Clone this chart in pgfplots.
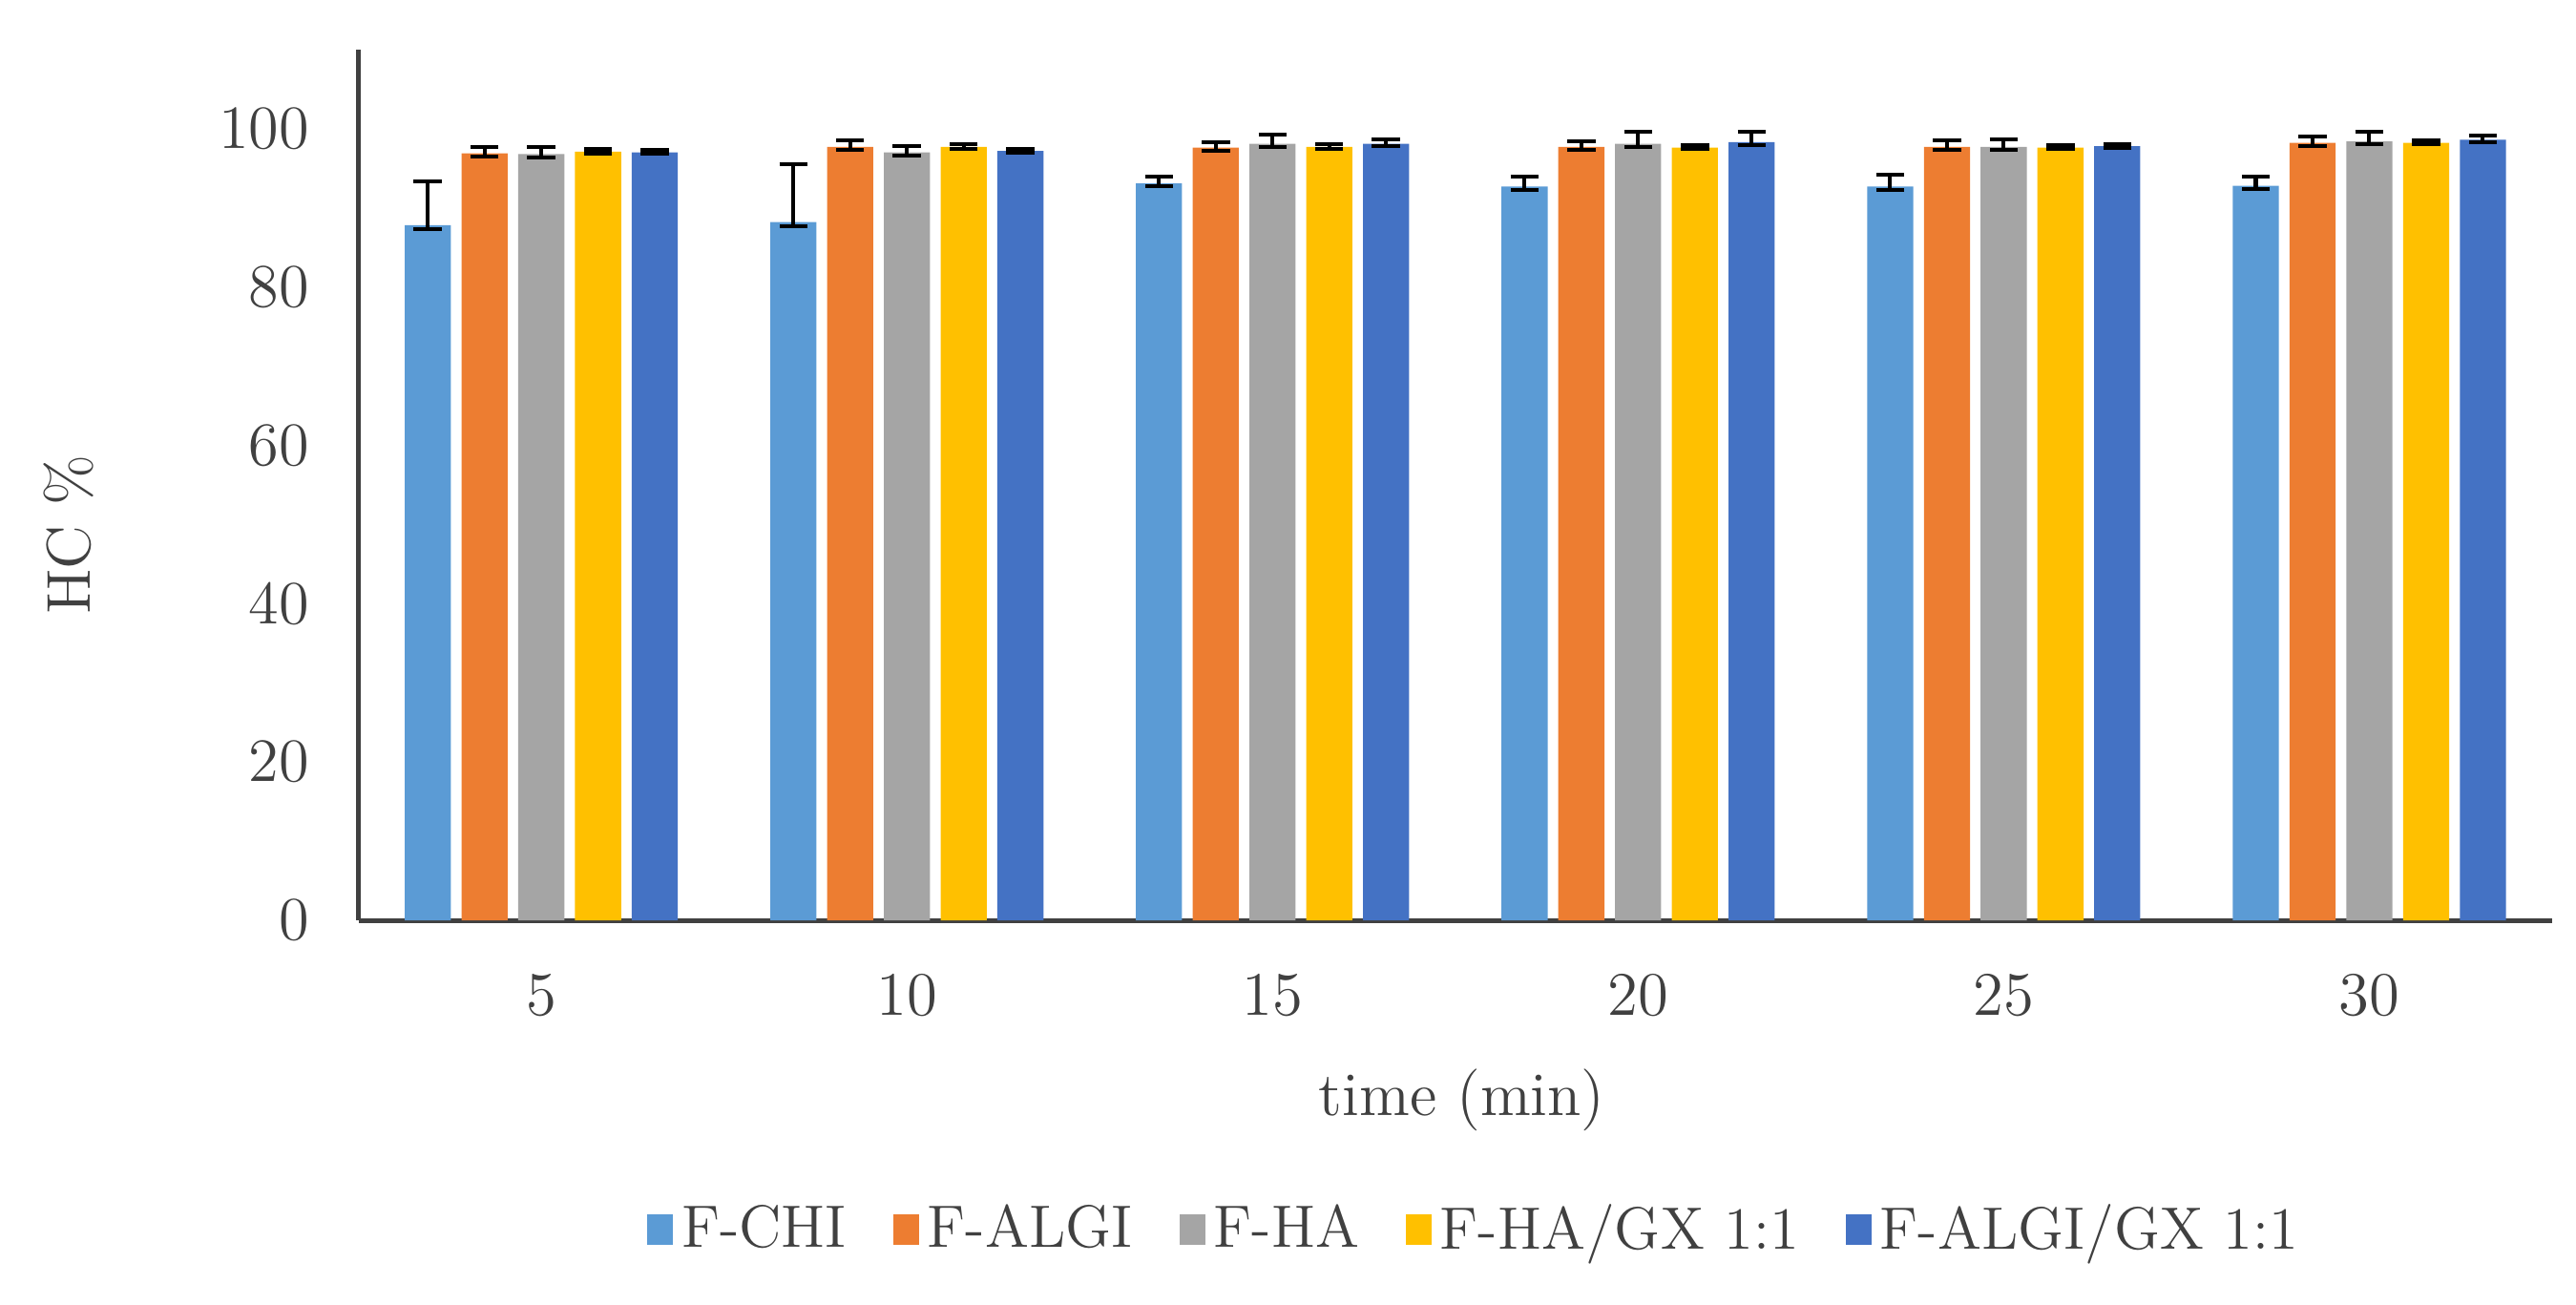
\documentclass[border=0pt]{standalone}
\usepackage{pgfplots}
\pgfplotsset{compat=1.18}
\definecolor{cchi}{HTML}{5B9BD5}
\definecolor{calgi}{HTML}{ED7D31}
\definecolor{cha}{HTML}{A5A5A5}
\definecolor{chagx}{HTML}{FFC000}
\definecolor{calgigx}{HTML}{4472C4}
\definecolor{txt}{HTML}{404040}
\pgfplotstableread{
x y ep em
0 87.8 5.5 0.5
1 88.2 7.3 0.5
2 93.1 0.8 0.4
3 92.7 1.2 0.4
4 92.7 1.5 0.4
5 92.8 1.1 0.4
}\chi
\pgfplotstableread{
x y ep em
0 96.9 0.8 0.4
1 97.7 0.8 0.4
2 97.6 0.7 0.4
3 97.7 0.7 0.4
4 97.7 0.8 0.4
5 98.2 0.8 0.4
}\algi
\pgfplotstableread{
x y ep em
0 96.8 0.9 0.4
1 97.0 0.8 0.4
2 98.1 1.2 0.4
3 98.1 1.5 0.4
4 97.7 0.9 0.4
5 98.4 1.2 0.4
}\ha
\pgfplotstableread{
x y ep em
0 97.1 0.3 0.2
1 97.7 0.3 0.2
2 97.7 0.3 0.2
3 97.6 0.3 0.2
4 97.6 0.3 0.2
5 98.2 0.3 0.2
}\hagx
\pgfplotstableread{
x y ep em
0 97.0 0.3 0.2
1 97.2 0.3 0.2
2 98.1 0.6 0.3
3 98.3 1.3 0.4
4 97.8 0.3 0.2
5 98.6 0.5 0.3
}\algigx
\begin{document}
\begin{tikzpicture}
\path[use as bounding box] (-84pt,-90pt) rectangle (519.6pt,215.6pt);
\begin{axis}[
  at={(0,0)}, anchor=south west,
  scale only axis, width=514pt, height=204pt,
  ymin=0, ymax=110, xmin=-0.5, xmax=5.5,
  axis x line*=bottom, axis y line*=left,
  axis line style={-, draw=black!75, line width=1.1pt},
  xtick={0,...,5}, xticklabels={5,10,15,20,25,30},
  ytick={0,20,...,100},
  major tick length=0pt,
  tick label style={font=\fontsize{14.5}{17}\selectfont, text=txt},
  xticklabel style={yshift=-9pt},
  yticklabel style={xshift=-8pt},
  xlabel={time (min)},
  xlabel style={at={(axis description cs:0.503,0)}, anchor=center, yshift=-42pt, font=\fontsize{14.5}{17}\selectfont, text=txt},
  ylabel={HC \%},
  ylabel style={at={(axis description cs:-0.132,0.443)}, anchor=center, font=\fontsize{14.5}{17}\selectfont, text=txt},
  ybar=2.5pt, bar width=10.8pt,
  legend style={at={(0.51,-0.355)}, anchor=center, draw=none, fill=none,
    legend columns=5, font=\fontsize{14}{16}\selectfont, text=txt,
    /tikz/every even column/.append style={column sep=9pt}},
  legend image code/.code={\fill[#1] (0pt,-3.5pt) rectangle (6pt,3.5pt);},
  every axis plot/.append style={draw=none,
    error bars/y dir=both, error bars/y explicit,
    error bars/error bar style={black, line width=0.9pt},
    error bars/error mark options={rotate=90, black, mark size=3.3pt, line width=0.9pt}},
]
\addplot[fill=cchi] table[x=x, y=y, y error plus=ep, y error minus=em] {\chi};
\addplot[fill=calgi] table[x=x, y=y, y error plus=ep, y error minus=em] {\algi};
\addplot[fill=cha] table[x=x, y=y, y error plus=ep, y error minus=em] {\ha};
\addplot[fill=chagx] table[x=x, y=y, y error plus=ep, y error minus=em] {\hagx};
\addplot[fill=calgigx] table[x=x, y=y, y error plus=ep, y error minus=em] {\algigx};
\legend{F-CHI, F-ALGI, F-HA, F-HA/GX 1:1, F-ALGI/GX 1:1}
\end{axis}
\end{tikzpicture}
\end{document}
